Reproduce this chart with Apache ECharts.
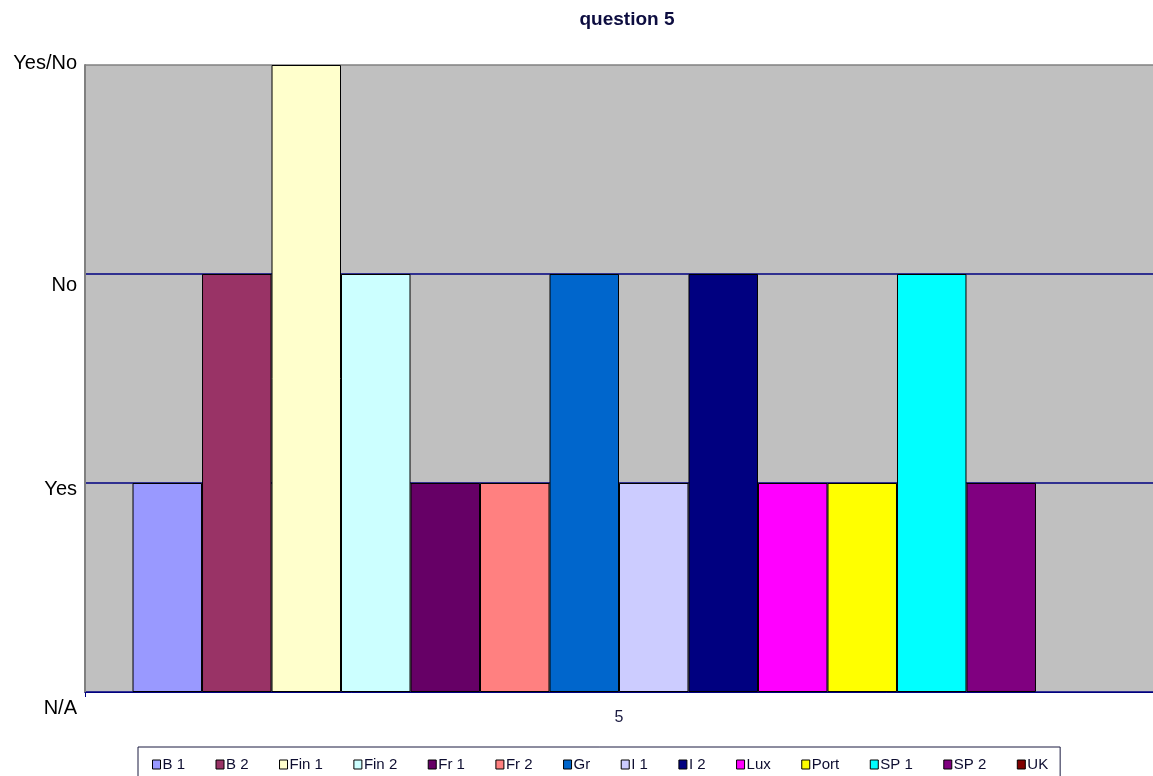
<!DOCTYPE html>
<html>
<head>
<meta charset="utf-8">
<script src="https://cdn.jsdelivr.net/npm/echarts@6/dist/echarts.min.js"></script>
<style>html,body{margin:0;padding:0;background:#fff;overflow:hidden;}#c{width:1153px;height:776px;}</style>
</head>
<body>
<div id="c"></div>
<script>
const categories = ['5'];
const seriesNames = ['B 1','B 2','Fin 1','Fin 2','Fr 1','Fr 2','Gr','I 1','I 2','Lux','Port','SP 1','SP 2','UK'];
const seriesValues = [1, 2, 3, 2, 1, 1, 2, 1, 2, 1, 1, 2, 1, 0];
const seriesColors = ['#9999FF','#993366','#FFFFCC','#CCFFFF','#660066','#FF8080','#0066CC','#CCCCFF','#000080','#FF00FF','#FFFF00','#00FFFF','#800080','#800000'];
const yTickLabels = ['N/A','Yes','No','Yes/No'];

const FONT = '"Liberation Sans", Arial, sans-serif';
const chart = echarts.init(document.getElementById('c'), null, {renderer:'canvas'});
const series = seriesNames.map((n,i)=>({
  name:n, type:'bar', data:[seriesValues[i]],
  barGap:'0%', barCategoryGap:'8.9%',
  itemStyle:{color:seriesColors[i], borderColor: seriesValues[i] === 0 ? 'rgba(0,0,0,0)' : '#000', borderWidth:1},
  emphasis:{disabled:true}
}));
chart.setOption({
  animation:false,
  title:{text:'question 5', left:622, textAlign:'center', top:5,
    textStyle:{fontFamily:FONT, fontSize:19, fontWeight:'bold', color:'#0d0d40'}},
  grid:{left:85, right:0, top:65, bottom:84, show:true, backgroundColor:'#C0C0C0', borderColor:'#808080', borderWidth:0},
  legend:{data:seriesNames, left:138, top:747, itemGap:30.5, itemWidth:8, itemHeight:9,
    padding:[10,12,10,14], borderColor:'#1a1a40', borderWidth:1, icon:'rect',
    itemStyle:{borderColor:'#000', borderWidth:1},
    textStyle:{fontFamily:FONT, fontSize:15, color:'#0d0d30', padding:[0,0,0,-3]}},
  xAxis:{type:'category', data:categories,
    axisLine:{lineStyle:{color:'#000080', width:1}},
    axisTick:{show:true, length:5, lineStyle:{color:'#000080'}},
    axisLabel:{fontFamily:FONT, fontSize:16, color:'#1a1a40', margin:18}},
  yAxis:{type:'value', min:0, max:3, interval:1,
    axisLine:{show:true, lineStyle:{color:'#808080', width:2}},
    axisTick:{show:false},
    splitLine:{show:true, lineStyle:{color:['#000080','#000080','#000080','#808080'], width:1.5}},
    axisLabel:{fontFamily:FONT, fontSize:20, color:'#000', margin:8,
      formatter:(v)=>'{n'+v+'|'+yTickLabels[v]+'}',
      rich:{
        n0:{fontFamily:FONT, fontSize:20, color:'#000', padding:[32,0,0,0]},
        n1:{fontFamily:FONT, fontSize:20, color:'#000', padding:[12,0,0,0]},
        n2:{fontFamily:FONT, fontSize:20, color:'#000', padding:[22,0,0,0]},
        n3:{fontFamily:FONT, fontSize:20, color:'#000', padding:[0,0,4,0]}
      }}},
  series:series
});
</script>
</body>
</html>
